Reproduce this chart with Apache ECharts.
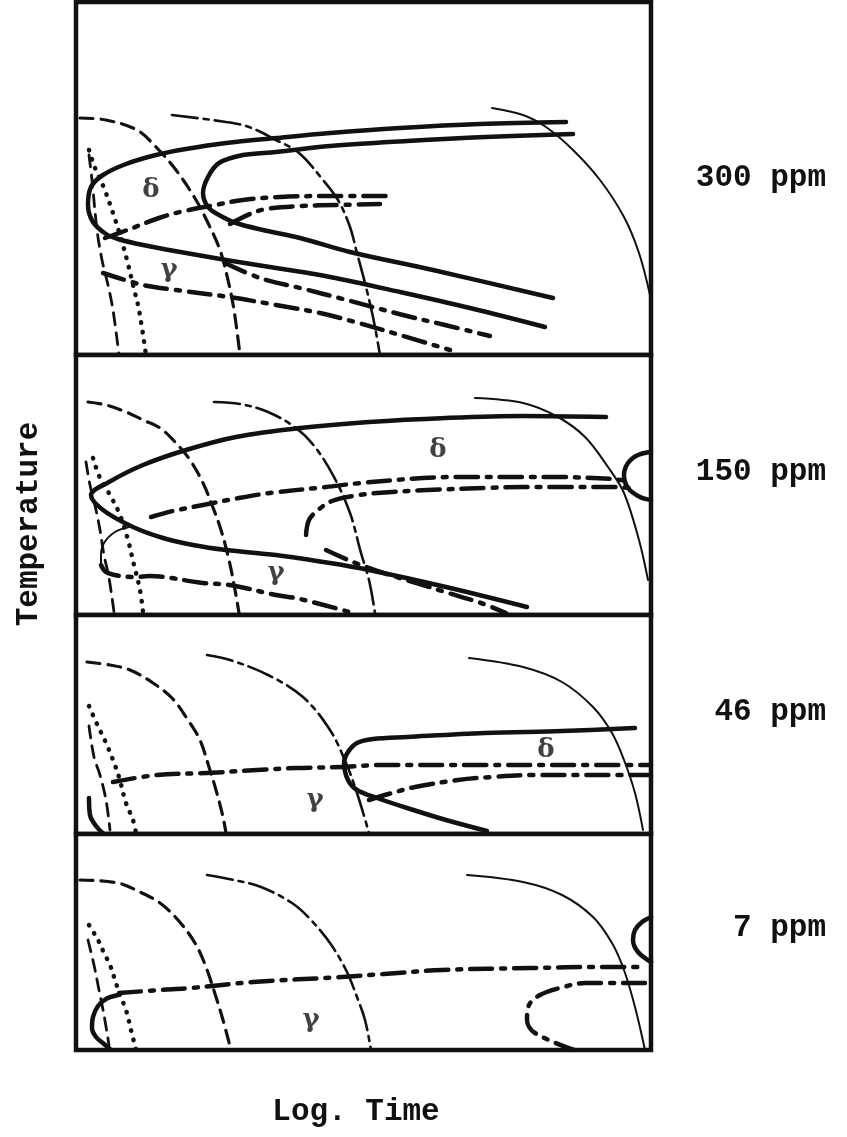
<!DOCTYPE html>
<html lang="en">
<head>
<meta charset="UTF-8">
<title>Temperature - Log. Time</title>
<style>
    html, body { margin: 0; padding: 0; background: #fff; }
    #main { width: 847px; height: 1137px; }
</style>
</head>
<body>
<div id="main"></div>
<script src="https://cdn.jsdelivr.net/npm/echarts@6/dist/echarts.min.js"></script>
<script>
// one panel per boron level, same log-time axis, temperature axis from 0 (panel bottom)
var panelNames = ['300 ppm', '150 ppm', '46 ppm', '7 ppm'];
var timeMax = 115;
var tempMax = [70.6, 52, 43.8, 43.2];

// ---- 300 ppm ----
var p300Outer = [[98,46.6],[80.8,46.2],[64.8,45.4],[50.8,44.4],[40,43.4],[30,42.4],[22,41.2],[16,40],[10,38.2],[5.4,36],[3,33.6],[2.4,30],[3.4,26.6],[6,24.2],[8.4,23.2],[13.4,22],[22,20.4],[30,19],[40,17.4],[50.8,15.6],[64.8,12.6],[78.8,9.4],[93.8,5.6]];
var p300Inner = [[99.4,44.2],[81.8,43.6],[66.2,42.8],[50.8,41.8],[40,40.6],[33.4,40],[28.6,38.4],[26.4,35.6],[25.4,32.4],[26.4,29.6],[28.6,28],[32,26.4],[37.4,25],[44.8,23.4],[54.8,20.6],[71.4,17],[95.4,11.4]];
var p300Right = [[83.2,49.4],[89.4,48],[94,45.6],[99.4,41],[104.8,35],[109.6,27.6],[112.6,20.4],[114.8,12]];
var p300Mid = [[19.2,48],[30,46.6],[34.6,45.6],[40,43],[44.6,40.4],[49.4,35],[52.4,31],[54.8,25.6],[56.2,20.4],[57.8,14.4],[59.4,7.6],[60.8,0]];
var p300Dash = [[0.8,47.4],[6,47],[12.2,45],[16,41.6],[20,37],[24,31],[26.4,26.4],[28.8,21],[30.4,15],[31.6,9],[32.8,0]];
var p300Dot = [[2.6,41],[3.8,37.4],[5.6,33.4],[7.4,28.4],[8.8,24],[10.2,19],[11.4,14],[12.6,9],[14,0]];
var p300LeftDash = [[2.6,40],[3.2,35],[4.2,25],[5.2,19],[6.4,14],[7.4,9],[8.6,0]];
var p300DeltaA = [[5.8,23.4],[10.8,25.2],[16.6,27.4],[20.8,28.6],[26.8,29.8],[33.4,31],[40.8,31.6],[50.8,31.8],[62.4,31.8]];
var p300DeltaB = [[30.8,26.2],[34.8,28.2],[38,29.2],[44.8,29.8],[52.8,30],[60.8,30.2]];
var p300GammaA = [[29.8,18.4],[36.8,15.4],[44.8,13.4],[53.4,11.2],[65.4,8],[73.8,6],[82.8,3.8]];
var p300GammaB = [[5.4,16.4],[13.4,14],[20,13],[30.6,11.6],[40,10],[48.8,8.4],[55.8,6.6],[64.8,4],[74.8,1]];
var p300Greek = [[15,33,'δ'],[18.6,17,'γ']];

// ---- 150 ppm ----
var p150Nose = [[106,39.6],[89.4,39.8],[74,39.4],[58.6,38.6],[44.8,37.4],[32,35.6],[22,33],[13.4,30],[6.6,26.6],[3,24],[5.4,21],[11.4,17.6],[17.4,15.4],[23.4,14],[30,13],[40,12],[50.8,10.4],[58.6,9],[74,5.6],[90.2,1.6]];
var p150Right = [[79.8,43.4],[89.4,42.4],[96.4,39.6],[101.8,35.6],[106.4,29.6],[109.6,24.4],[112.6,15],[114.4,7]];
var p150Loop = [[115,32.6],[112.4,32],[110.4,30.4],[109.6,28],[110.4,25.4],[112.8,23.6],[115,23]];
var p150Mid = [[27.6,42.6],[32.8,42.2],[38.4,40.6],[44,37.4],[47.8,33.6],[51.6,27.6],[54.8,20.4],[57,12.4],[58.6,7],[59.8,0.4]];
var p150Dash = [[2.4,42.6],[6,42],[10,40.6],[13.4,39],[16.8,37.4],[20,34.4],[22.8,31],[25.4,26.4],[27.2,22],[29,17],[30.6,11],[31.8,5],[32.6,0.4]];
var p150Dot = [[3.4,31.4],[4.8,27.4],[6.8,24],[8.8,20],[10.4,15],[11.6,10],[12.8,5],[13.4,0.6]];
var p150LeftDash = [[2,30.6],[2.8,26],[4,21],[4.8,17],[5.6,12],[6.6,7.4],[7.6,0.6]];
var p150Arc = [[10.6,17.6],[7.8,16.6],[5.6,14.4],[5,12],[5,10]];
var p150GammaB = [[5,10],[6,8.6],[8.8,7.8],[12,7.6],[14.6,7.8],[25.4,6.4],[30.8,6],[40,4],[44.8,3.2],[55.4,0.4]];
var p150DeltaA = [[15,19.6],[19.4,20.8],[25.4,22],[32.6,23.4],[38.8,24.4],[50,25.6],[57,26.4],[69.4,27.4],[77.2,27.6],[88,27.6],[95.6,27.6],[107.2,27.2],[110.4,26.8]];
var p150DeltaB = [[46,16],[46.6,19],[48.4,21],[51.2,22.8],[55.4,23.8],[60.2,24.4],[70.2,25],[81.8,25.4],[89.4,25.6],[96.4,25.6],[108,25.6],[110.8,25.4]];
var p150GammaA = [[50,13],[55.4,10.6],[62.8,8],[69.4,6],[73.8,4.6],[81,2.4],[86,0.4]];
var p150Greek = [[72.4,33,'δ'],[40,8.4,'γ']];

// ---- 46 ppm ----
var p46Nose = [[111.8,21.2],[97.2,20.6],[81.8,20.2],[66.2,19.4],[59.4,19],[56.2,18.2],[54.4,16.4],[53.6,14.2],[54.4,10.8],[56.2,8.8],[60.2,7.2],[66.2,5.2],[74,2.8],[82.2,0.6]];
var p46Right = [[78.6,35.2],[89.4,33.4],[97.2,30.4],[103.4,25.4],[107.2,20.2],[109.6,14.8],[111.8,8.2],[113.4,0.8]];
var p46Mid = [[26.2,35.8],[30.8,34.8],[38.4,31.8],[45.4,27.4],[50.8,20.8],[54,14.2],[56.2,8.2],[58.6,0.2]];
var p46Dash = [[2.2,34.4],[6.8,33.8],[10.8,32.8],[15.4,30.2],[19.2,27.2],[22.4,22.8],[24.8,18.8],[26.6,13.4],[28,8.8],[29.4,3.4],[30,0.2]];
var p46Dot = [[2.6,25.6],[4,22.4],[6,18.2],[7.4,14.8],[8.6,11.4],[10,6.2],[11.4,2.8],[12,0.2]];
var p46LeftDash = [[2.6,21.6],[3.6,15.4],[4.8,11.8],[6,6.8],[6.8,0.8]];
var p46Arc = [[2.6,7.2],[2.8,3.8],[4,1.6],[5.6,0]];
var p46DeltaA = [[7.4,10.4],[16.2,11.8],[26.2,12.2],[36.2,12.8],[44,13.2],[53.2,13.4],[60.8,13.8],[80.2,13.8],[96.4,13.8],[115,13.8]];
var p46DeltaB = [[58.6,6.8],[63.2,8.2],[67.8,9.4],[76.4,10.8],[83.2,11.4],[91.8,11.8],[104.8,11.8],[115,11.8]];
var p46Greek = [[94,16.8,'δ'],[47.8,6.8,'γ']];

// ---- 7 ppm ----
var p7Right = [[78.2,35],[89.4,33.6],[97.2,31],[103.4,26.6],[107.2,21.4],[109.6,16],[111.8,8.6],[113.8,0]];
var p7Mid = [[26.2,35],[31.6,34],[37,32.6],[43.2,29.4],[47,26],[50.8,21.4],[54,16],[56.2,10.6],[57.8,6],[59,0]];
var p7Dash = [[0.8,34],[8.4,33.4],[12.8,31.6],[16.8,29.4],[20.4,26],[23.8,21.4],[26,16.6],[28,10.6],[29.4,6],[31,0]];
var p7Dot = [[2.6,25],[4.4,22],[5.6,19.4],[6.8,17],[7.8,14],[8.8,11],[10,8],[11,4],[12,0]];
var p7LeftDash = [[2.4,22],[3.6,17],[4.6,12],[5.6,7],[6.6,1]];
var p7Loop = [[8.4,11],[6,10.2],[4.4,8.8],[3.4,6.6],[3.2,4.4],[4,2.6],[5.6,1.2],[6.8,0.2]];
var p7DeltaA = [[8.6,11.4],[16.8,12],[23,12.4],[35.4,13.6],[53.2,14.6],[61.6,15.2],[73.2,16],[91,16.4],[104.8,16.6],[113.8,16.6]];
var p7Curl = [[113.8,13.4],[101.8,13.4],[96.8,12.4],[92.8,11],[90.6,9],[90.2,6],[91.8,3.4],[99.6,0]];
var p7RightLoop = [[115,26.6],[113.2,25.6],[111.8,24],[111.4,22],[112.4,19.6],[115,17.6]];
var p7Greek = [[47,6,'γ']];

// line looks used in the drawing
var looks = {
    thick:   { width: 4.5, type: 'solid' },
    thin:    { width: 2,   type: 'solid' },
    dash:    { width: 3.2, type: [13, 8] },
    dot:     { width: 4.5, type: [0.5, 9] },
    left:    { width: 2.8, type: [12, 8] },
    dashdot: { width: 4.5, type: [22, 9, 4, 9] },
    middle:  { width: 2.6, type: [26, 6, 5, 6] }
};

var panels = [
    { lines: [[p300Outer,'thick'],[p300Inner,'thick'],[p300Right,'thin'],[p300Mid,'middle'],[p300Dash,'dash'],[p300Dot,'dot'],[p300LeftDash,'left'],
              [p300DeltaA,'dashdot'],[p300DeltaB,'dashdot'],[p300GammaA,'dashdot'],[p300GammaB,'dashdot']], greek: p300Greek },
    { lines: [[p150Nose,'thick'],[p150Right,'thin'],[p150Loop,'thick'],[p150Mid,'middle'],[p150Dash,'dash'],[p150Dot,'dot'],[p150LeftDash,'left'],
              [p150Arc,'thin'],[p150GammaB,'dashdot'],[p150DeltaA,'dashdot'],[p150DeltaB,'dashdot'],[p150GammaA,'dashdot']], greek: p150Greek },
    { lines: [[p46Nose,'thick'],[p46Right,'thin'],[p46Mid,'middle'],[p46Dash,'dash'],[p46Dot,'dot'],[p46LeftDash,'left'],[p46Arc,'thick'],
              [p46DeltaA,'dashdot'],[p46DeltaB,'dashdot']], greek: p46Greek },
    { lines: [[p7Right,'thin'],[p7Mid,'middle'],[p7Dash,'dash'],[p7Dot,'dot'],[p7LeftDash,'left'],[p7Loop,'thick'],
              [p7DeltaA,'dashdot'],[p7Curl,'dashdot'],[p7RightLoop,'thick']], greek: p7Greek }
];

// panel boxes (px)
var gridTop = [2, 355, 615, 834];
var gridHeight = [353, 260, 219, 216];
var labelY = [178, 472, 712, 928];

var grids = [], xAxes = [], yAxes = [], series = [], texts = [];
var fontMono = '"Liberation Mono", "DejaVu Sans Mono", monospace';

panels.forEach(function (p, i) {
    grids.push({ left: 76, width: 575, top: gridTop[i], height: gridHeight[i],
        show: true, borderColor: '#111', borderWidth: 4.5, backgroundColor: '#fff' });
    xAxes.push({ type: 'value', gridIndex: i, min: 0, max: timeMax, show: false });
    yAxes.push({ type: 'value', gridIndex: i, min: 0, max: tempMax[i], show: false });

    p.lines.forEach(function (l) {
        var look = looks[l[1]];
        series.push({
            type: 'line', xAxisIndex: i, yAxisIndex: i,
            data: l[0], smooth: 0.35, symbol: 'none', silent: true,
            lineStyle: { color: '#111', width: look.width, type: look.type, cap: 'round', join: 'round' }
        });
    });

    series.push({
        type: 'scatter', xAxisIndex: i, yAxisIndex: i, symbolSize: 0, silent: true,
        data: p.greek.map(function (g) { return { value: [g[0], g[1]], name: g[2] }; }),
        label: { show: true, position: 'inside', formatter: '{b}', color: '#111',
                 fontSize: 26, fontWeight: 'bold', fontFamily: '"DejaVu Serif", serif' }
    });

    texts.push({
        type: 'text', x: 826, y: labelY[i],
        style: { text: panelNames[i], font: 'bold 31px ' + fontMono, fill: '#111',
                 align: 'right', verticalAlign: 'middle' }
    });
});

texts.push({ type: 'text', x: 356, y: 1112,
    style: { text: 'Log. Time', font: 'bold 31px ' + fontMono, fill: '#111',
             align: 'center', verticalAlign: 'middle' } });
texts.push({ type: 'text', x: 29, y: 524, rotation: Math.PI / 2,
    style: { text: 'Temperature', font: 'bold 31px ' + fontMono, fill: '#111',
             align: 'center', verticalAlign: 'middle' } });

var myChart = echarts.init(document.getElementById('main'));
myChart.setOption({
    animation: false,
    backgroundColor: '#fff',
    grid: grids,
    xAxis: xAxes,
    yAxis: yAxes,
    series: series,
    graphic: texts
});
</script>
</body>
</html>
